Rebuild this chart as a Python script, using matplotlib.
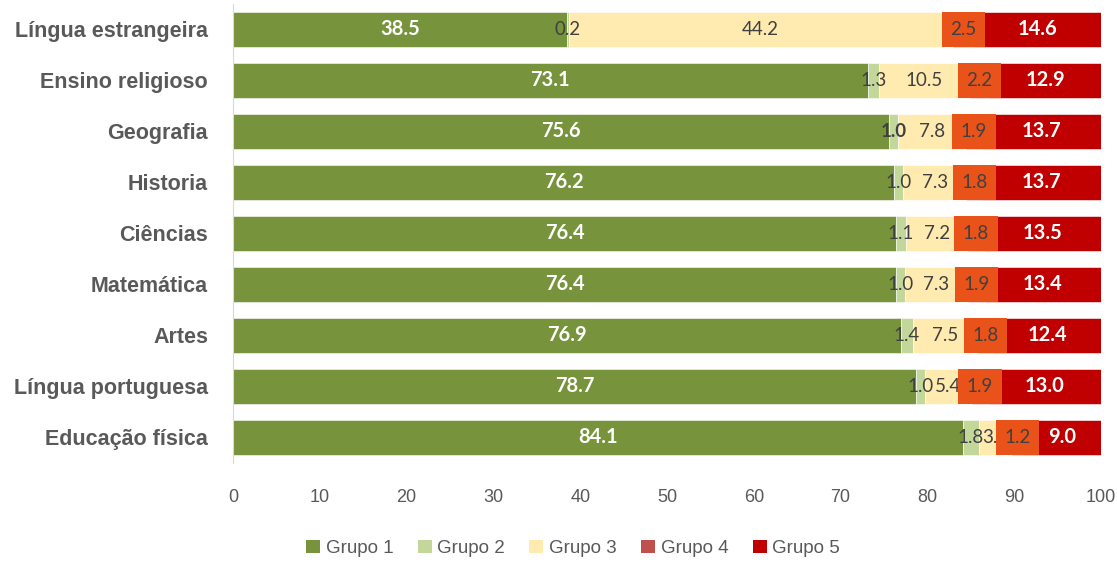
import matplotlib.pyplot as plt
from matplotlib.patches import Patch
import numpy as np

# data, top to bottom as in the picture
categories = ['Língua estrangeira', 'Ensino religioso', 'Geografia', 'Historia',
              'Ciências', 'Matemática', 'Artes', 'Língua portuguesa', 'Educação física']
grupo1 = [38.5, 73.1, 75.6, 76.2, 76.4, 76.4, 76.9, 78.7, 84.1]
grupo2 = [0.2, 1.3, 1.0, 1.0, 1.1, 1.0, 1.4, 1.0, 1.8]
grupo3 = [44.2, 10.5, 7.8, 7.3, 7.2, 7.3, 7.5, 5.4, 3.9]
grupo4 = [2.5, 2.2, 1.9, 1.8, 1.8, 1.9, 1.8, 1.9, 1.2]
grupo5 = [14.6, 12.9, 13.7, 13.7, 13.5, 13.4, 12.4, 13.0, 9.0]
series_names = ['Grupo 1', 'Grupo 2', 'Grupo 3', 'Grupo 4', 'Grupo 5']
xticks = [0, 10, 20, 30, 40, 50, 60, 70, 80, 90, 100]

colors = ['#77933C', '#C4D79B', '#FFEAB0', '#C0504D', '#C00000']
label_box = '#E9531A'
narrow = ['Liberation Sans Narrow', 'Liberation Sans', 'DejaVu Sans']
lab_font = ['Lato', 'DejaVu Sans']

series = [grupo1, grupo2, grupo3, grupo4, grupo5]
n = len(categories)
y = np.arange(n)[::-1]
bar_h = 0.68

fig = plt.figure(figsize=(11.17, 5.63), dpi=100)
ax = fig.add_axes([0.2086, 0.178, 0.7771, 0.815])

left = np.zeros(n)
for k, vals in enumerate(series):
    vals = np.array(vals)
    ax.barh(y, vals, left=left, height=bar_h, color=colors[k],
            edgecolor='white', linewidth=0.4, zorder=2)
    centers = left + vals / 2
    for yi, c, v in zip(y, centers, vals):
        if k in (0, 4):
            ax.text(c, yi, f'{v:.1f}', ha='center', va='center', color='white',
                    fontsize=14.5, fontweight='bold', family=lab_font, zorder=6)
        elif k == 3:
            # orange label box over the thin grupo 4 segment
            ax.barh(yi, 5.0, left=c - 2.5, height=bar_h, color=label_box, zorder=4)
            ax.text(c, yi, f'{v:.1f}', ha='center', va='center', color='#404040',
                    fontsize=13.5, family=lab_font, zorder=6)
        else:
            bold = (k == 1 and categories[n - 1 - yi] == 'Geografia')
            ax.text(c, yi, f'{v:.1f}', ha='center', va='center', color='#404040',
                    fontsize=13.5, family=lab_font, zorder=3,
                    fontweight='bold' if bold else 'normal')
    left = left + vals

ax.set_xlim(0, 100)
ax.set_ylim(-0.5, n - 0.5)
ax.set_xticks(xticks)
ax.set_xticklabels([str(t) for t in xticks], family=narrow, fontsize=13, color='#595959')
ax.set_yticks(y)
ax.set_yticklabels(categories, family=narrow, fontsize=15.5, fontweight='bold', color='#595959')
ax.tick_params(axis='both', length=0)
ax.tick_params(axis='y', pad=18)
ax.tick_params(axis='x', pad=19)
for s in ['top', 'right', 'bottom']:
    ax.spines[s].set_visible(False)
ax.spines['left'].set_color('#D9D9D9')
ax.spines['left'].set_zorder(5)

handles = [Patch(facecolor=c, label=l) for c, l in zip(colors, series_names)]
leg = fig.legend(handles=handles, loc='center', bbox_to_anchor=(0.513, 0.026), ncol=5,
                 frameon=False, handlelength=0.75, handleheight=0.75, handletextpad=0.3,
                 columnspacing=1.3, prop={'family': narrow, 'size': 13.5})
for t in leg.get_texts():
    t.set_color('#595959')

fig.savefig('out.png', dpi=100)
